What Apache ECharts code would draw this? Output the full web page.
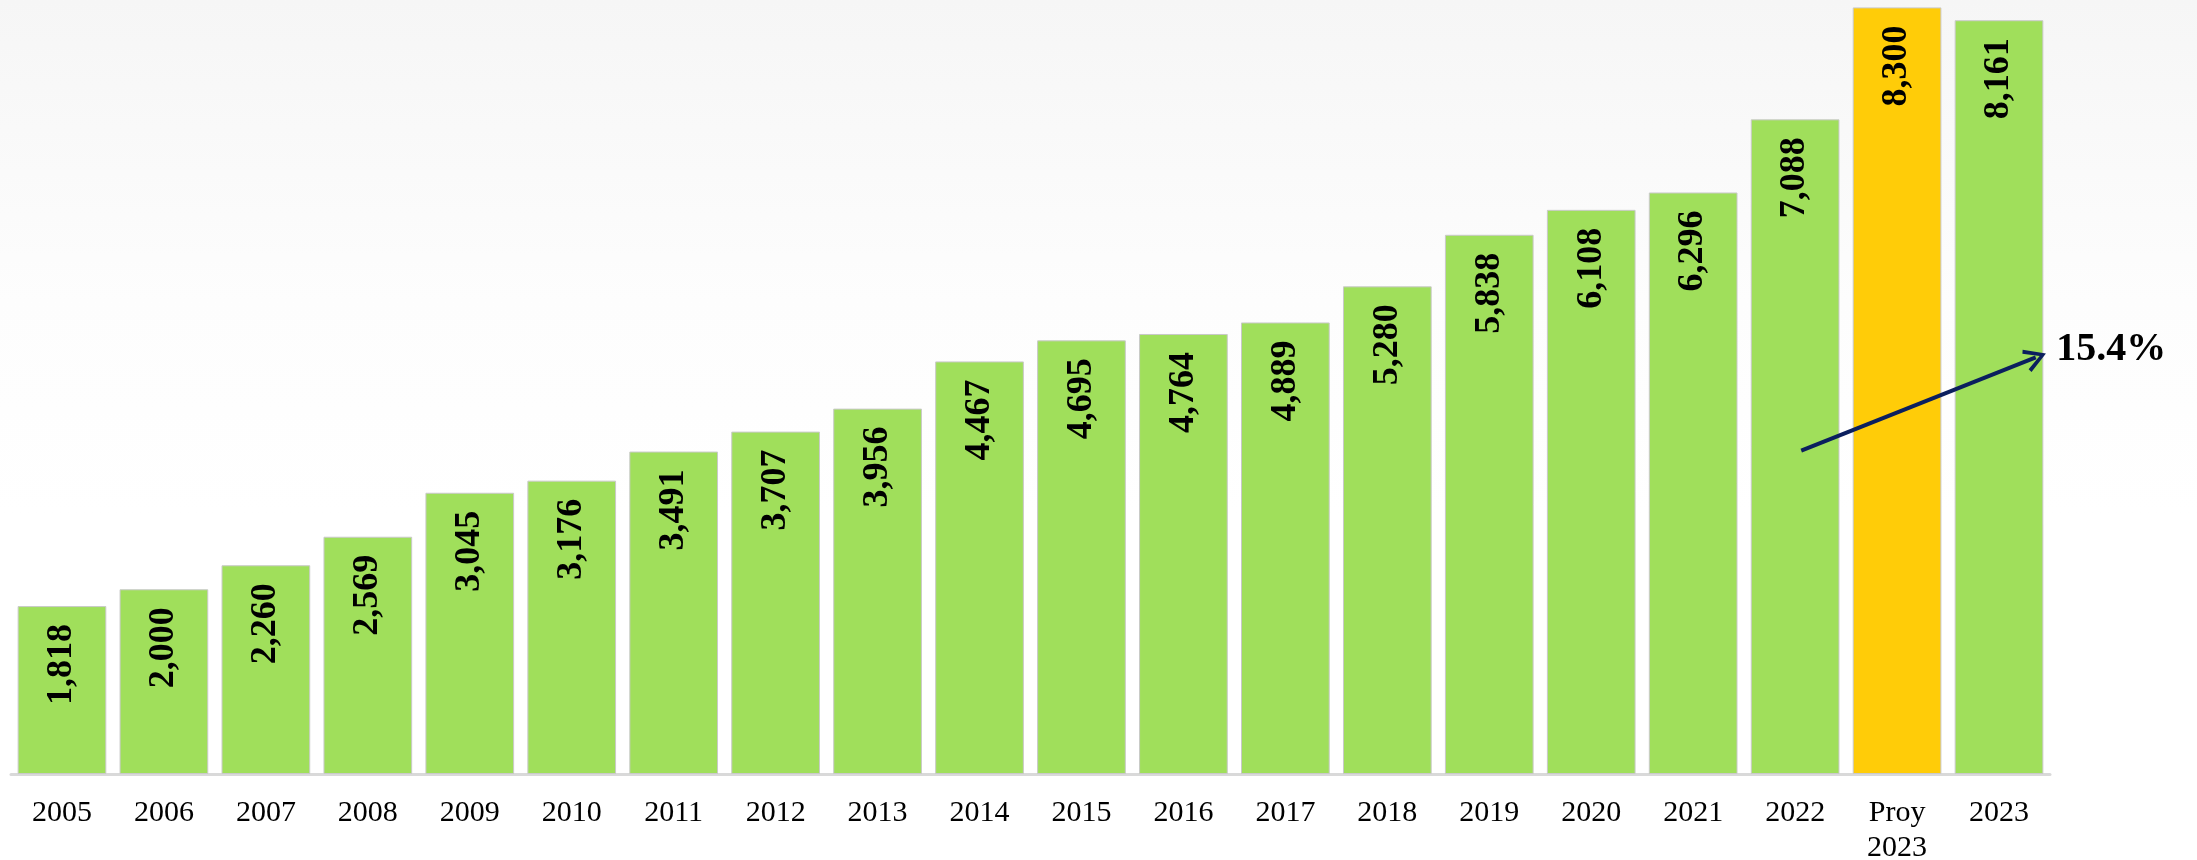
<!DOCTYPE html>
<html>
<head>
<meta charset="utf-8">
<script src="https://cdn.jsdelivr.net/npm/echarts@6/dist/echarts.min.js"></script>
<style>
    html, body { margin: 0; padding: 0; }
    body { background: linear-gradient(to bottom, #f6f6f6 0%, #fdfdfd 35%, #ffffff 60%); }
    #chart { width: 2197px; height: 860px; }
</style>
</head>
<body>
<div id="chart"></div>
<script>
// categorias y valores
const categories = ['2005', '2006', '2007', '2008', '2009', '2010', '2011', '2012', '2013', '2014',
    '2015', '2016', '2017', '2018', '2019', '2020', '2021', '2022', 'Proy\n2023', '2023'];
const values = [1818, 2000, 2260, 2569, 3045, 3176, 3491, 3707, 3956, 4467,
    4695, 4764, 4889, 5280, 5838, 6108, 6296, 7088, 8300, 8161];
const projIndex = 18;
// flecha de crecimiento (posicion en categorias, valor)
const arrowStart = [17.06, 3500];
const arrowEnd = [19.36, 4510];
const growthText = '15.4%';

const green = '#a0df5b';
const yellow = '#ffcc08';

var chart = echarts.init(document.getElementById('chart'));

var barData = values.map(function (v, i) {
    return {
        value: v,
        itemStyle: { color: i === projIndex ? yellow : green }
    };
});

chart.setOption({
    animation: false,
    grid: {
        left: 11,
        right: 147,
        top: 0,
        bottom: 86,
        outerBoundsMode: 'none',
        containLabel: false
    },
    xAxis: [{
        type: 'category',
        data: categories,
        axisLine: { lineStyle: { color: '#d9d9d9', width: 3 } },
        axisTick: { show: false },
        axisLabel: {
            color: '#000',
            fontFamily: 'Liberation Serif',
            fontSize: 30,
            lineHeight: 35,
            margin: 22,
            interval: 0
        }
    }, {
        // eje auxiliar para ubicar la flecha entre categorias
        type: 'value',
        position: 'top',
        min: -0.5,
        max: categories.length - 0.5,
        show: false
    }],
    yAxis: {
        type: 'value',
        min: 0,
        max: 8380,
        show: false,
        splitLine: { show: false }
    },
    series: [{
        type: 'bar',
        data: barData,
        barCategoryGap: '13%',
        itemStyle: { borderColor: '#c9c9c9', borderWidth: 1 },
        label: {
            show: true,
            position: 'insideTop',
            rotate: 90,
            align: 'right',
            verticalAlign: 'middle',
            distance: 18,
            color: '#000',
            fontFamily: 'Liberation Serif',
            fontWeight: 'bold',
            fontSize: 36,
            formatter: function (p) {
                return p.value.toLocaleString('en-US');
            }
        }
    }, {
        type: 'line',
        xAxisIndex: 1,
        data: [],
        markLine: {
            silent: true,
            symbol: ['none', 'path://M0,12 L6,0 L12,12 L10.2,13 L6,4 L1.8,13 Z'],
            symbolSize: [24, 22],
            lineStyle: { color: '#0b1f5e', width: 4, type: 'solid' },
            label: {
                show: true,
                position: 'end',
                distance: 22,
                formatter: growthText,
                color: '#000',
                fontFamily: 'Liberation Serif',
                fontWeight: 'bold',
                fontSize: 40
            },
            data: [[
                { coord: arrowStart },
                { coord: arrowEnd }
            ]]
        }
    }]
});
</script>
</body>
</html>
